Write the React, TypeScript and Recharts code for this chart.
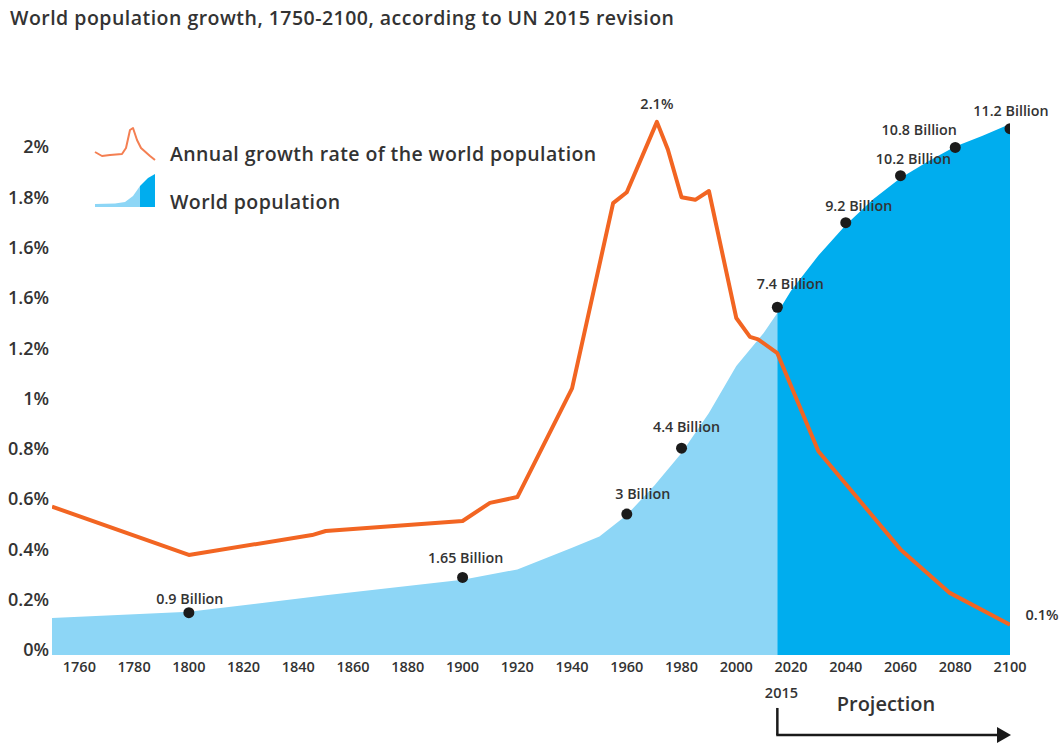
import React from "react";
import {
  ComposedChart,
  Area,
  Line,
  XAxis,
  YAxis,
  LabelList,
  ReferenceLine,
  ReferenceDot,
} from "recharts";

// ---- data ----
const growthYears = [1750, 1800, 1845, 1850, 1900, 1910, 1920, 1940, 1955, 1960, 1971, 1975, 1980, 1985, 1990, 2000, 2005, 2008, 2015, 2030, 2060, 2078, 2100];
const growthRates = [0.57, 0.378, 0.457, 0.473, 0.513, 0.585, 0.608, 1.04, 1.777, 1.82, 2.1, 1.99, 1.8, 1.79, 1.825, 1.32, 1.245, 1.235, 1.18, 0.79, 0.4, 0.227, 0.1];

const popHistYears = [1750, 1800, 1850, 1900, 1920, 1940, 1950, 1960, 1970, 1980, 1990, 2000, 2010, 2015];
const popHist = [0.79, 0.92, 1.27, 1.6, 1.82, 2.28, 2.52, 2.98, 3.6, 4.3, 5.15, 6.15, 6.85, 7.28];

const popProjYears = [2015, 2020, 2030, 2040, 2050, 2060, 2070, 2080, 2090, 2100];
const popProj = [7.28, 7.75, 8.5, 9.15, 9.7, 10.15, 10.5, 10.82, 11.05, 11.3];

const milestoneYears = [1800, 1900, 1960, 1980, 2015, 2040, 2060, 2080, 2100];
const milestonePop = [0.9, 1.65, 3, 4.4, 7.4, 9.2, 10.2, 10.8, 11.2];
const milestoneLabels = ["0.9 Billion", "1.65 Billion", "3 Billion", "4.4 Billion", "7.4 Billion", "9.2 Billion", "10.2 Billion", "10.8 Billion", "11.2 Billion"];

const xTicks = [1760, 1780, 1800, 1820, 1840, 1860, 1880, 1900, 1920, 1940, 1960, 1980, 2000, 2020, 2040, 2060, 2080, 2100];
const yTicks = [0, 0.2, 0.4, 0.6, 0.8, 1, 1.2, 1.4, 1.6, 1.8, 2];
const yTickLabels = ["0%", "0.2%", "0.4%", "0.6%", "0.8%", "1%", "1.2%", "1.6%", "1.6%", "1.8%", "2%"];

const titleText = "World population growth, 1750-2100, according to UN 2015 revision";
const legendGrowth = "Annual growth rate of the world population";
const legendPop = "World population";
const projectionStartLabel = "2015";
const projectionLabel = "Projection";

// ---- derived tables ----
const growthData = growthYears.map((year, i) => ({ year, rate: growthRates[i] }));
const histData = popHistYears.map((year, i) => ({ year, pop: popHist[i] }));
const projData = popProjYears.map((year, i) => ({ year, pop: popProj[i] }));
const milestoneData = milestoneYears.map((year, i) => ({ year, pop: milestonePop[i], label: milestoneLabels[i] }));

// ---- styles ----
const FONT = "'Open Sans', 'DejaVu Sans', sans-serif";
const TEXT = "#333333";
const ORANGE = "#F26522";
const LIGHT_BLUE = "#8DD6F6";
const DARK_BLUE = "#00ADEE";

// label offsets (style, keyed by label index)
const labelShift: Record<number, [number, number]> = {
  0: [1, -14],
  1: [3, -20],
  2: [16, -21],
  3: [5, -22],
  4: [13, -24],
  5: [13, -17],
  6: [13, -17],
  7: [-36, -18],
  8: [1, -18],
};

const peakIndex = growthRates.indexOf(Math.max(...growthRates));
const lastIndex = growthRates.length - 1;

const renderGrowthLabel = (props: any) => {
  const { x, y, index, value } = props;
  if (index === peakIndex) {
    return (
      <text x={x} y={y - 18} textAnchor="middle" dominantBaseline="central" fontSize={14.5} fontWeight={600} fill={TEXT} fontFamily={FONT}>
        {`${value}%`}
      </text>
    );
  }
  if (index === lastIndex) {
    return (
      <text x={x + 32} y={y - 10} textAnchor="middle" dominantBaseline="central" fontSize={14.5} fontWeight={600} fill={TEXT} fontFamily={FONT}>
        {`${value}%`}
      </text>
    );
  }
  return null;
};

const renderMilestoneLabel = (props: any) => {
  const { x, y, index } = props;
  const [dx, dy] = labelShift[index] || [0, -18];
  return (
    <text x={x + dx} y={y + dy} textAnchor="middle" dominantBaseline="central" fontSize={14.3} fontWeight={600} fill={TEXT} fontFamily={FONT}>
      {milestoneLabels[index]}
    </text>
  );
};

const yTickFormatter = (v: number) => {
  const i = yTicks.findIndex((t) => Math.abs(t - v) < 1e-6);
  return i >= 0 ? yTickLabels[i] : "";
};

const ArrowHead = (props: any) => {
  const { cx, cy } = props;
  if (cx == null || cy == null) return <g />;
  return <path d={`M${cx - 13},${cy - 8} L${cx + 1},${cy} L${cx - 13},${cy + 8} Z`} fill="#1a1a1a" />;
};

const Empty = () => <g />;

const bigText: React.CSSProperties = {
  position: "absolute",
  fontSize: 19.5,
  lineHeight: "26px",
  letterSpacing: 0.4,
  color: TEXT,
  fontWeight: 600,
  whiteSpace: "nowrap",
};

export default function App() {
  return (
    <div style={{ position: "absolute", left: 0, top: 0, width: 1064, height: 744, background: "#fff", fontFamily: FONT }}>
      <div style={{ ...bigText, left: 10, top: 5, letterSpacing: 0.48 }}>{titleText}</div>
      <div style={{ position: "absolute", left: 0, top: 0 }}>
        <ComposedChart width={1064} height={744} margin={{ top: 100, right: 54, bottom: 0, left: 0 }}>
          <XAxis
            dataKey="year"
            type="number"
            domain={[1750, 2100]}
            ticks={xTicks}
            allowDataOverflow
            axisLine={false}
            tickLine={false}
            tickSize={0}
            tickMargin={7}
            height={89}
            interval={0}
            tick={{ fontSize: 14.5, fontWeight: 600, fill: TEXT, fontFamily: FONT }}
          />
          <YAxis
            yAxisId="pct"
            type="number"
            domain={[-0.02, 2.187]}
            ticks={yTicks}
            allowDataOverflow
            axisLine={false}
            tickLine={false}
            tickSize={0}
            tickMargin={3}
            width={52}
            interval={0}
            tickFormatter={yTickFormatter}
            tick={{ fontSize: 18, fontWeight: 600, fill: TEXT, fontFamily: FONT }}
          />
          <YAxis yAxisId="pop" dataKey="pop" type="number" domain={[0, 11.81]} allowDataOverflow hide />

          <Area
            data={histData}
            dataKey="pop"
            yAxisId="pop"
            type="linear"
            stroke="none"
            fill={LIGHT_BLUE}
            fillOpacity={1}
            dot={false}
            activeDot={false}
            isAnimationActive={false}
          />
          <Area
            data={projData}
            dataKey="pop"
            yAxisId="pop"
            type="linear"
            stroke="none"
            fill={DARK_BLUE}
            fillOpacity={1}
            dot={false}
            activeDot={false}
            isAnimationActive={false}
          />
          <Line
            data={growthData}
            dataKey="rate"
            yAxisId="pct"
            type="linear"
            stroke={ORANGE}
            strokeWidth={4}
            strokeLinejoin="round"
            dot={false}
            activeDot={false}
            isAnimationActive={false}
          >
            <LabelList dataKey="rate" content={renderGrowthLabel} />
          </Line>
          <Line
            data={milestoneData}
            dataKey="pop"
            yAxisId="pop"
            type="linear"
            stroke="none"
            strokeWidth={0}
            dot={{ r: 5.5, fill: "#1b1b1b", stroke: "none", strokeWidth: 0 }}
            activeDot={false}
            isAnimationActive={false}
          >
            <LabelList dataKey="pop" content={renderMilestoneLabel} />
          </Line>

          <ReferenceLine
            yAxisId="pct"
            ifOverflow="visible"
            segment={[{ x: 2015, y: -0.2306 }, { x: 2015, y: -0.338 }]}
            stroke="#1a1a1a"
            strokeWidth={2.5}
          />
          <ReferenceLine
            yAxisId="pct"
            ifOverflow="visible"
            segment={[{ x: 2014.6, y: -0.338 }, { x: 2097, y: -0.338 }]}
            stroke="#1a1a1a"
            strokeWidth={2.5}
          />
          <ReferenceDot yAxisId="pct" x={2100} y={-0.338} r={1} ifOverflow="visible" shape={ArrowHead} />
          <ReferenceDot
            yAxisId="pct"
            x={2016.5}
            y={-0.171}
            r={0}
            ifOverflow="visible"
            shape={Empty}
            label={{ value: projectionStartLabel, position: "center", fontSize: 14.5, fontWeight: 600, fill: TEXT, fontFamily: FONT }}
          />
          <ReferenceDot
            yAxisId="pct"
            x={2054.7}
            y={-0.215}
            r={0}
            ifOverflow="visible"
            shape={Empty}
            label={{ value: projectionLabel, position: "center", fontSize: 20, fontWeight: 600, fill: TEXT, fontFamily: FONT }}
          />
        </ComposedChart>
      </div>

      {/* legend */}
      <div style={{ position: "absolute", left: 0, top: 0, width: 700, height: 230, pointerEvents: "none" }}>
        <svg width={70} height={100} style={{ position: "absolute", left: 90, top: 120 }}>
          <path
            d="M5,32 L12,36 L20,35 L32,34 L36,28 L40,10 L43,8 L47,20 L51,28 L60,36 L65,40"
            fill="none"
            stroke="#F47F52"
            strokeWidth={2}
            strokeLinejoin="round"
          />
          <path d="M5,87 L5,84 L25,83.5 L35,82 L43,76 L50,66 L50,87 Z" fill={LIGHT_BLUE} />
          <path d="M50,87 L50,66 L58,58 L65,54 L65,87 Z" fill={DARK_BLUE} />
        </svg>
        <div style={{ ...bigText, left: 170, top: 141 }}>{legendGrowth}</div>
        <div style={{ ...bigText, left: 170, top: 189 }}>{legendPop}</div>
      </div>
    </div>
  );
}
